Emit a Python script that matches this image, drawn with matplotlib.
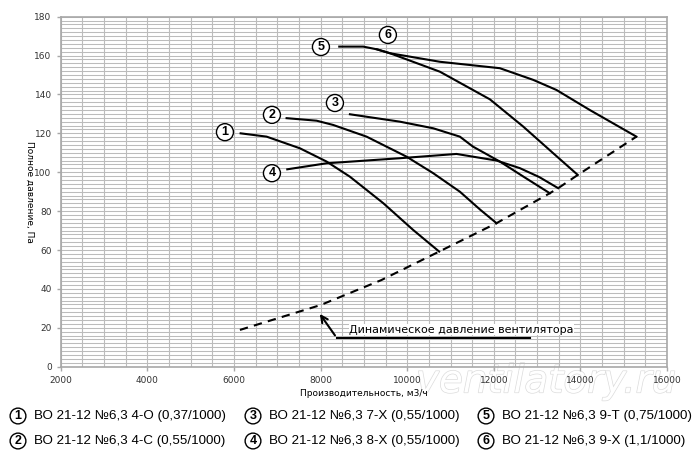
import matplotlib
matplotlib.use("Agg")
from matplotlib import pyplot as plt
import matplotlib.patheffects as pe

# curves: flow, m3/h -> total pressure, Pa
q1 = [6154, 6754, 7523, 8138, 8677, 9446, 10138, 10738]
p1 = [120.0, 118.3, 112.3, 105.5, 97.7, 84.1, 70.3, 59.2]

q2 = [7215, 7908, 8292, 9062, 9985, 10600, 11215, 11692, 12062]
p2 = [127.8, 126.5, 124.3, 118.3, 108.0, 99.5, 90.0, 80.6, 73.8]

q3 = [8677, 9831, 10600, 11215, 11516, 12138, 12700, 13292]
p3 = [129.8, 126.0, 122.6, 118.3, 113.2, 105.5, 97.5, 89.2]

q4 = [7231, 8138, 9831, 11138, 12062, 12600, 13050, 13485]
p4 = [101.5, 104.6, 107.2, 109.4, 106.0, 102.1, 97.5, 91.8]

q5 = [8431, 8985, 9300, 9600, 10754, 11908, 12677, 13369, 13938]
p5 = [164.6, 164.6, 163.2, 161.2, 151.7, 137.5, 123.5, 109.8, 98.6]

q6 = [9300, 9600, 10754, 12138, 12908, 13446, 14215, 15292]
p6 = [163.2, 161.2, 156.8, 153.5, 147.5, 142.3, 132.0, 118.3]

# dynamic pressure (dashed)
qd = [6138, 8000, 9400, 10738, 12062, 13292, 13485, 13938, 15292]
pd = [18.9, 31.7, 44.5, 59.2, 73.8, 89.2, 91.8, 98.6, 118.3]

curves = [(q1, p1), (q2, p2), (q3, p3), (q4, p4), (q5, p5), (q6, p6)]
label_pos = [(5792, 120.6), (6877, 129.5), (8331, 135.6),
             (6877, 99.5), (8008, 164.4), (9554, 170.6)]

legend_text = ["ВО 21-12 №6,3 4-О (0,37/1000)",
               "ВО 21-12 №6,3 4-С (0,55/1000)",
               "ВО 21-12 №6,3 7-Х (0,55/1000)",
               "ВО 21-12 №6,3 8-Х (0,55/1000)",
               "ВО 21-12 №6,3 9-Т (0,75/1000)",
               "ВО 21-12 №6,3 9-Х (1,1/1000)"]

x_ticks = [2000, 4000, 6000, 8000, 10000, 12000, 14000, 16000]
y_ticks = [0, 20, 40, 60, 80, 100, 120, 140, 160, 180]

plt.rcParams['font.family'] = ['Liberation Sans', 'DejaVu Sans']

fig = plt.figure(figsize=(7, 4.68), dpi=100)
ax = fig.add_axes([0.0867, 0.2165, 0.8663, 0.7479])
ax.patch.set_alpha(0)
ax.set_xlim(2000, 16000)
ax.set_ylim(0, 180)

grid_c = '#bcbcbc'
for x in range(2000, 16001, 500):
    ax.axvline(x, color=grid_c, lw=0.8, zorder=0)
for y in range(0, 181, 2):
    ax.axhline(y, color=grid_c, lw=0.75, zorder=0)

for s in ax.spines.values():
    s.set_color('#a8a8a8')
    s.set_linewidth(1.2)

ax.set_xticks(x_ticks)
ax.set_yticks(y_ticks)
ax.tick_params(labelsize=6.5, colors='#a8a8a8', labelcolor='#333333',
               length=3, width=1)
for lab in ax.get_xticklabels() + ax.get_yticklabels():
    lab.set_family(['DejaVu Sans'])

for q, p in curves:
    ax.plot(q, p, color='black', lw=1.5, zorder=3)
ax.plot(qd, pd, color='black', lw=1.5, ls=(0, (4, 3)), zorder=3)

for i, (lx, ly) in enumerate(label_pos):
    ax.text(lx, ly, str(i + 1), ha='center', va='center', fontsize=9,
            fontweight='bold', zorder=5,
            bbox=dict(boxstyle='circle,pad=0.2', fc='white', ec='black', lw=1))

# callout for dynamic pressure
ax.annotate('', xy=(7945, 28.3), xytext=(8370, 14.9),
            arrowprops=dict(arrowstyle='->', color='black', lw=1.5,
                            mutation_scale=12), zorder=4)
ax.plot([8370, 12831], [14.9, 14.9], color='black', lw=1.5, zorder=4)
ax.text(8660, 16.5, "Динамическое давление вентилятора", fontsize=8,
        family=['DejaVu Sans'], ha='left', va='bottom', zorder=4,
        bbox=dict(fc='white', ec='none', pad=0.5))

ax.set_xlabel("Производительность, м3/ч", fontsize=6.5, family=['DejaVu Sans'],
              labelpad=3)
fig.text(0.043, 0.59, "Полное давление, Па", rotation=270, fontsize=6.5,
         family=['DejaVu Sans'], ha='center', va='center')

# watermark, kept behind the axes contents
fig.text(0.78, 0.185, "ventilatory.ru", fontsize=28, style='italic',
         color='white', ha='center', va='center', zorder=-1,
         family=['DejaVu Sans'],
         path_effects=[pe.withStroke(linewidth=1.0, foreground='#dcdcdc')])

# legend rows below the chart
col_x = [18, 253, 486]
row_y = [416, 441]
for i, t in enumerate(legend_text):
    cx = col_x[i // 2] / 700
    cy = 1 - row_y[i % 2] / 468
    fig.text(cx, cy, str(i + 1), ha='center', va='center', fontsize=9,
             fontweight='bold',
             bbox=dict(boxstyle='circle,pad=0.15', fc='white', ec='black', lw=1))
    fig.text(cx + 16 / 700, cy, t, ha='left', va='center', fontsize=9.6)

fig.savefig('out.png', dpi=100)
